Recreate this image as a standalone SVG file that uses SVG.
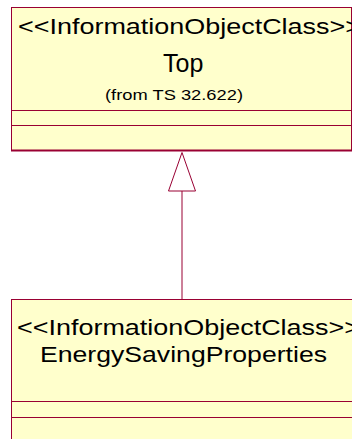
<svg xmlns="http://www.w3.org/2000/svg" width="352" height="439" viewBox="0 0 352 439">
<style>
.box{fill:#FFFFCC;stroke:#990033;stroke-width:1}
.sep{stroke:#990033;stroke-width:1;fill:none}
.edge{stroke:#990033;stroke-width:2;fill:none}
text{font-family:"Liberation Sans",Arial,sans-serif;fill:#000}
.st{font-size:22px}
.nm{font-size:25px}
.fr{font-size:15px}
.conn{stroke:#990033;stroke-width:1;fill:none}
</style>
<rect width="352" height="439" fill="#FFFFFF"/>
<g id="connectors">
<line class="conn" x1="182" y1="191" x2="182" y2="299"/>
<polygon points="182,152.5 168.5,191 195.5,191" fill="#FFFFFF" stroke="#990033" stroke-width="1"/>
</g>
<g id="top">
<rect class="box" x="11.5" y="7.5" width="340" height="143"/>
<line class="edge" x1="11" y1="150.5" x2="352" y2="150.5"/>
<line class="sep" x1="11.5" y1="110.5" x2="352" y2="110.5"/>
<line class="sep" x1="11.5" y1="125.5" x2="352" y2="125.5"/>
<text class="st" x="18" y="34" textLength="343" lengthAdjust="spacingAndGlyphs">&lt;&lt;InformationObjectClass&gt;&gt;</text>
<text class="nm" x="163" y="71.5">Top</text>
<text class="fr" x="105" y="99.5" textLength="138" lengthAdjust="spacingAndGlyphs">(from TS 32.622)</text>
</g>
<g id="energySavingProperties">
<rect class="box" x="11.5" y="299.5" width="345" height="150"/>
<line class="sep" x1="11.5" y1="401.5" x2="352" y2="401.5"/>
<line class="sep" x1="11.5" y1="417.5" x2="352" y2="417.5"/>
<text class="st" x="17" y="335" textLength="343" lengthAdjust="spacingAndGlyphs">&lt;&lt;InformationObjectClass&gt;&gt;</text>
<text class="st" x="40" y="361.5" textLength="287" lengthAdjust="spacingAndGlyphs">EnergySavingProperties</text>
</g>
</svg>
